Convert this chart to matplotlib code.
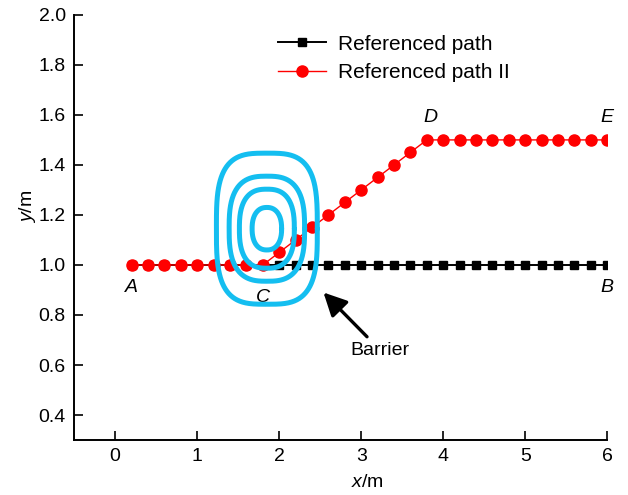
import numpy as np
import matplotlib
matplotlib.use("Agg")
import matplotlib.pyplot as plt

plt.rcParams['font.family'] = ['Liberation Sans', 'DejaVu Sans']
plt.rcParams['mathtext.fontset'] = 'custom'
plt.rcParams['mathtext.it'] = 'Liberation Sans:italic'
plt.rcParams['mathtext.rm'] = 'Liberation Sans'

# path data
ref_x = [0.2, 0.4, 0.6, 0.8, 1.0, 1.2, 1.4, 1.6, 1.8, 2.0, 2.2, 2.4, 2.6, 2.8, 3.0,
         3.2, 3.4, 3.6, 3.8, 4.0, 4.2, 4.4, 4.6, 4.8, 5.0, 5.2, 5.4, 5.6, 5.8, 6.0]
ref_y = [1.0] * 30

ref2_x = [0.2, 0.4, 0.6, 0.8, 1.0, 1.2, 1.4, 1.6, 1.8, 2.0, 2.2, 2.4, 2.6, 2.8, 3.0,
          3.2, 3.4, 3.6, 3.8, 4.0, 4.2, 4.4, 4.6, 4.8, 5.0, 5.2, 5.4, 5.6, 5.8, 6.0]
ref2_y = [1.0, 1.0, 1.0, 1.0, 1.0, 1.0, 1.0, 1.0, 1.0, 1.05, 1.10, 1.15, 1.20, 1.25, 1.30,
          1.35, 1.40, 1.45, 1.50, 1.50, 1.50, 1.50, 1.50, 1.50, 1.50, 1.50, 1.50, 1.50, 1.50, 1.50]

# barrier contours: centre, half widths, half heights, squareness
barrier_cx, barrier_cy = 1.85, 1.145
barrier_hw = [0.615, 0.46, 0.335, 0.18]
barrier_hh = [0.302, 0.21, 0.158, 0.085]
barrier_n = [3.3, 2.8, 2.6, 2.3]

point_names = ['A', 'C', 'B', 'D', 'E']
point_x = [0.2, 1.8, 6.0, 3.85, 6.0]
point_y = [0.91, 0.87, 0.91, 1.59, 1.59]

fig = plt.figure(figsize=(6.28, 4.95), dpi=100)
ax = fig.add_axes([0.118, 0.111, 0.849, 0.859])

ax.plot(ref_x, ref_y, '-s', color='black', lw=1.4, ms=6, label='Referenced path')
ax.plot(ref2_x, ref2_y, '-o', color='#ff0000', lw=1.0, ms=8, label='Referenced path II')

t = np.linspace(0, 2 * np.pi, 400)
for hw, hh, n in zip(barrier_hw, barrier_hh, barrier_n):
    c, s = np.cos(t), np.sin(t)
    bx = barrier_cx + hw * np.sign(c) * np.abs(c) ** (2 / n)
    by = barrier_cy + hh * np.sign(s) * np.abs(s) ** (2 / n)
    ax.plot(bx, by, color='#14bef0', lw=3.6, solid_capstyle='round', zorder=4)

for name, px, py in zip(point_names, point_x, point_y):
    ax.text(px, py, '$\\it{' + name + '}$', fontsize=14, ha='center', va='center')

ax.annotate('Barrier', xy=(2.54, 0.89), xytext=(3.23, 0.66),
            fontsize=14, ha='center', va='center',
            arrowprops=dict(arrowstyle='-|>,head_length=1.0,head_width=0.5',
                            color='black', lw=2.4, shrinkA=2, shrinkB=0))

ax.set_xlim(-0.5, 6)
ax.set_ylim(0.3, 2.0)
ax.set_xticks([0, 1, 2, 3, 4, 5, 6])
ax.set_yticks([0.4, 0.6, 0.8, 1.0, 1.2, 1.4, 1.6, 1.8, 2.0])
ax.set_yticklabels(['0.4', '0.6', '0.8', '1.0', '1.2', '1.4', '1.6', '1.8', '2.0'])
ax.spines['top'].set_visible(False)
ax.spines['right'].set_visible(False)
for sp in ['left', 'bottom']:
    ax.spines[sp].set_linewidth(1.4)
ax.tick_params(direction='in', length=6.5, width=1.2, labelsize=14, pad=6)

ax.set_xlabel('$\\it{x}$/m', fontsize=14)
ax.set_ylabel('$\\it{y}$/m', fontsize=14)
ax.xaxis.set_label_coords(0.55, -0.08)
ax.yaxis.set_label_coords(-0.068, 0.55)

ax.legend(loc='upper left', bbox_to_anchor=(0.426, 0.951), bbox_transform=fig.transFigure,
          frameon=False, fontsize=15, handlelength=2.3, handletextpad=0.6,
          borderpad=0, labelspacing=0.45)

fig.savefig('out.png', dpi=100)
